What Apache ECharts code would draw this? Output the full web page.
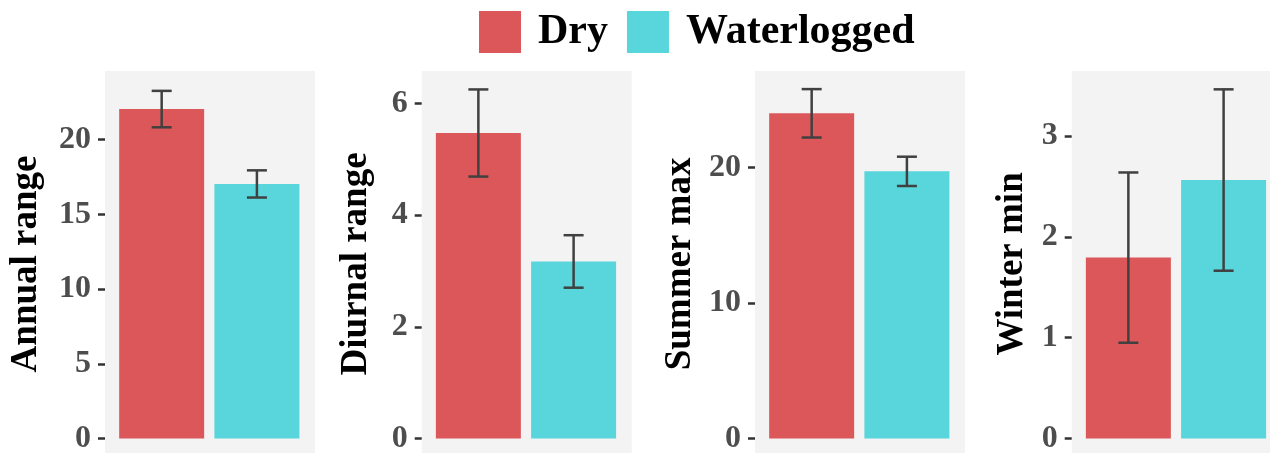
<!DOCTYPE html>
<html>
<head>
<meta charset="utf-8">
<script src="https://cdn.jsdelivr.net/npm/echarts@6/dist/echarts.min.js"></script>
<style>
  html, body { margin: 0; padding: 0; background: #ffffff; }
  #chart { width: 1270px; height: 453px; }
</style>
</head>
<body>
<div id="chart"></div>
<script>
// Site types (legend) and the four temperature metrics (one panel each)
const groups = ['Dry', 'Waterlogged'];
const metrics = ['Annual range', 'Diurnal range', 'Summer max', 'Winter min'];

// Mean value per metric, one array per site type
const dryMean = [22.05, 5.47, 23.98, 1.795];
const waterMean = [17.04, 3.17, 19.70, 2.565];

// Standard error per metric (error bars show mean ± se)
const drySe = [1.22, 0.78, 1.785, 0.845];
const waterSe = [0.91, 0.47, 1.08, 0.90];

// Y tick labels per panel
const yTicks = [
  [0, 5, 10, 15, 20],
  [0, 2, 4, 6],
  [0, 10, 20],
  [0, 1, 2, 3]
];

// Upper limit of each panel's y scale
const yMax = [24.6, 6.58, 27.1, 3.647];

const colors = { Dry: '#DC575A', Waterlogged: '#58D6DB' };
const FONT = '"Liberation Serif", "Times New Roman", serif';

const panelLeft = [105, 421.7, 755, 1071.7];
const panelWidth = 210;
const panelTop = 71;
const zeroY = 438.5;           // pixel row of the zero line
const nameGaps = [60, 47, 56, 41];

const chart = echarts.init(document.getElementById('chart'), null, { renderer: 'canvas' });

const grids = [], xAxes = [], yAxes = [], series = [];

function renderErrorBar(params, api) {
  const x = api.value(0), lo = api.value(1), hi = api.value(2);
  const top = api.coord([x, hi]);
  const bot = api.coord([x, lo]);
  const half = 10;
  const style = { stroke: '#404040', lineWidth: 2.5, fill: null };
  return {
    type: 'group',
    children: [
      { type: 'line', shape: { x1: top[0], y1: top[1], x2: bot[0], y2: bot[1] }, style },
      { type: 'line', shape: { x1: top[0] - half, y1: top[1], x2: top[0] + half, y2: top[1] }, style },
      { type: 'line', shape: { x1: bot[0] - half, y1: bot[1], x2: bot[0] + half, y2: bot[1] }, style }
    ]
  };
}

metrics.forEach((metric, i) => {
  const maxV = yMax[i];
  const minV = -0.05 * maxV;
  const ppu = (zeroY - panelTop) / maxV;
  const height = (maxV - minV) * ppu;

  grids.push({
    left: panelLeft[i], top: panelTop, width: panelWidth, height: height,
    outerBoundsMode: 'none', containLabel: false,
    show: true, backgroundColor: '#F3F3F3', borderWidth: 0
  });

  xAxes.push({
    gridIndex: i, type: 'value', min: 0.405, max: 2.61, show: false
  });

  yAxes.push({
    gridIndex: i, type: 'value', min: minV, max: maxV,
    name: metric, nameLocation: 'middle', nameGap: nameGaps[i], nameRotate: 90,
    nameTextStyle: { fontFamily: FONT, fontWeight: 'bold', fontSize: 37, color: '#000000' },
    axisLine: { show: false },
    splitLine: { show: false },
    axisTick: { show: true, length: 7, customValues: yTicks[i], lineStyle: { color: '#333333', width: 2.5 } },
    axisLabel: {
      show: true, customValues: yTicks[i], margin: 14,
      fontFamily: FONT, fontWeight: 'bold', fontSize: 32, color: '#4D4D4D'
    }
  });

  series.push({
    name: 'Dry', type: 'bar', xAxisIndex: i, yAxisIndex: i,
    barWidth: 85, barGap: '-100%',
    itemStyle: { color: colors.Dry },
    data: [[1, dryMean[i]]]
  });
  series.push({
    name: 'Waterlogged', type: 'bar', xAxisIndex: i, yAxisIndex: i,
    barWidth: 85, barGap: '-100%',
    itemStyle: { color: colors.Waterlogged },
    data: [[2, waterMean[i]]]
  });
  series.push({
    name: 'se-' + i, type: 'custom', xAxisIndex: i, yAxisIndex: i, z: 5,
    renderItem: renderErrorBar,
    data: [
      [1, dryMean[i] - drySe[i], dryMean[i] + drySe[i]],
      [2, waterMean[i] - waterSe[i], waterMean[i] + waterSe[i]]
    ]
  });
});

chart.setOption({
  animation: false,
  legend: {
    data: groups,
    left: 479, top: 11, padding: 0,
    icon: 'rect', itemWidth: 42, itemHeight: 42, itemGap: 19,
    selectedMode: false,
    textStyle: { fontFamily: FONT, fontWeight: 'bold', fontSize: 42, color: '#000000', padding: [0, 0, 0, 12] }
  },
  grid: grids,
  xAxis: xAxes,
  yAxis: yAxes,
  series: series
});
</script>
</body>
</html>
